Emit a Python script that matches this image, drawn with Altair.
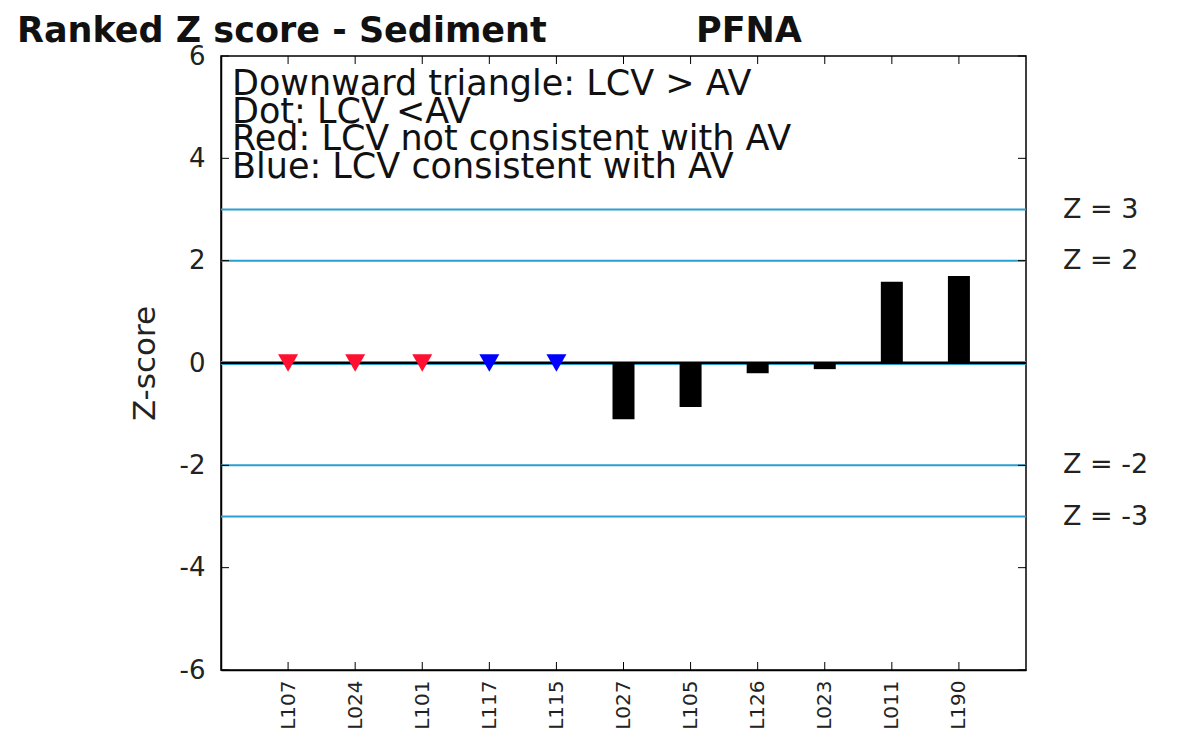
import altair as alt
import pandas as pd

# ---- data ----
labs = ["L107", "L024", "L101", "L117", "L115", "L027", "L105", "L126", "L023", "L011", "L190"]
bar_labs = ["L027", "L105", "L126", "L023", "L011", "L190"]
bar_z = [-1.10, -0.86, -0.20, -0.12, 1.59, 1.70]
tri_labs = ["L107", "L024", "L101", "L117", "L115"]
tri_z = [0, 0, 0, 0, 0]
tri_col = ["#ff1030", "#ff1030", "#ff1030", "#0000ff", "#0000ff"]
zlines = [3, 2, -2, -3]
zline_text = ["Z = 3", "Z = 2", "Z = -2", "Z = -3"]
yticks = [-6, -4, -2, 0, 2, 4, 6]
legend_lines = [
    "Downward triangle: LCV > AV",
    "Dot: LCV <AV",
    "Red: LCV not consistent with AV",
    "Blue: LCV consistent with AV",
]
title_left = "Ranked Z score - Sediment"
title_right = "PFNA"

W, H = 805, 614
FONT = "DejaVu Sans"
ZCOL = "#2a9fcf"

xs = alt.Scale(type="point", domain=labs, padding=1)
ys = alt.Scale(domain=[-6, 6], nice=False, zero=False)
xax = alt.Axis(title=None, labelAngle=-90, labelFont=FONT, labelFontSize=20, labelColor="#222",
               ticks=False, labelPadding=10, domainColor="black", domainWidth=1.5, grid=False)
yax = alt.Axis(title="Z-score", values=yticks, labelExpr="'' + datum.value",
               labelFont=FONT, labelFontSize=26, labelColor="#222",
               ticks=False, labelPadding=16, titleFont=FONT, titleFontSize=31, titleFontWeight="normal",
               titleColor="#222", titlePadding=18, domainColor="black", domainWidth=1.5, grid=False)

bars_df = pd.DataFrame({"lab": bar_labs, "z": bar_z})
tri_df = pd.DataFrame({"lab": tri_labs, "z": tri_z, "c": tri_col})
zl_df = pd.DataFrame({"z": zlines, "t": zline_text})
zero_df = pd.DataFrame({"z": [0]})
yt_df = pd.DataFrame({"z": yticks})
xt_df = pd.DataFrame({"lab": labs})

zl = alt.Chart(zl_df).mark_rule(color=ZCOL, strokeWidth=2).encode(
    y=alt.Y("z:Q", scale=ys, axis=yax))
zl_txt = alt.Chart(zl_df).mark_text(align="left", baseline="middle", font=FONT, fontSize=27,
                                    color="#222").encode(
    y=alt.Y("z:Q", scale=ys, axis=yax), x=alt.value(W + 37), text="t:N")

bars = alt.Chart(bars_df).mark_bar(color="black", size=22).encode(
    x=alt.X("lab:N", scale=xs, axis=xax, sort=labs),
    y=alt.Y("z:Q", scale=ys, axis=yax),
    y2=alt.datum(0))

zero_blue = alt.Chart(zero_df).mark_rule(color=ZCOL, strokeWidth=4).encode(
    y=alt.Y("z:Q", scale=ys, axis=yax))
zero_blk = alt.Chart(zero_df).mark_rule(color="black", strokeWidth=2).encode(
    y=alt.Y("z:Q", scale=ys, axis=yax))

tris = alt.Chart(tri_df).mark_point(shape="triangle-down", filled=True, size=400, opacity=1).encode(
    x=alt.X("lab:N", scale=xs, axis=xax, sort=labs),
    y=alt.Y("z:Q", scale=ys, axis=yax),
    color=alt.Color("c:N", scale=None))

ytl = alt.Chart(yt_df).mark_rule(color="black", strokeWidth=1).encode(
    y=alt.Y("z:Q", scale=ys, axis=yax), x=alt.value(0), x2=alt.value(8))
ytr = alt.Chart(yt_df).mark_rule(color="black", strokeWidth=1).encode(
    y=alt.Y("z:Q", scale=ys, axis=yax), x=alt.value(W - 8), x2=alt.value(W))
xtb = alt.Chart(xt_df).mark_rule(color="black", strokeWidth=1).encode(
    x=alt.X("lab:N", scale=xs, axis=xax, sort=labs), y=alt.value(H - 8), y2=alt.value(H))
xtt = alt.Chart(xt_df).mark_rule(color="black", strokeWidth=1).encode(
    x=alt.X("lab:N", scale=xs, axis=xax, sort=labs), y=alt.value(0), y2=alt.value(8))

leg = alt.Chart(pd.DataFrame({"t": ["\n".join(legend_lines)]})).mark_text(
    align="left", baseline="alphabetic", font=FONT, fontSize=35, lineHeight=27.5,
    lineBreak="\n", color="#111").encode(
    x=alt.value(11), y=alt.value(39), text="t:N")

t1 = alt.Chart(pd.DataFrame({"t": [title_left]})).mark_text(
    align="left", baseline="alphabetic", font=FONT, fontSize=35, fontWeight="bold",
    color="#111").encode(x=alt.value(-204), y=alt.value(-14), text="t:N")
t2 = alt.Chart(pd.DataFrame({"t": [title_right]})).mark_text(
    align="left", baseline="alphabetic", font=FONT, fontSize=35, fontWeight="bold",
    color="#111").encode(x=alt.value(475), y=alt.value(-14), text="t:N")

chart = alt.layer(zl, zero_blue, bars, zero_blk, tris, ytl, ytr, xtb, xtt, zl_txt, leg, t1, t2).properties(
    width=W, height=H,
    autosize=alt.AutoSizeParams(type="none"),
    padding={"left": 213, "top": 48, "right": 150, "bottom": 64},
    background="white",
).configure_view(stroke="black", strokeWidth=1.5)

chart.save("out.html", embed_options={"renderer": "svg", "actions": False})
